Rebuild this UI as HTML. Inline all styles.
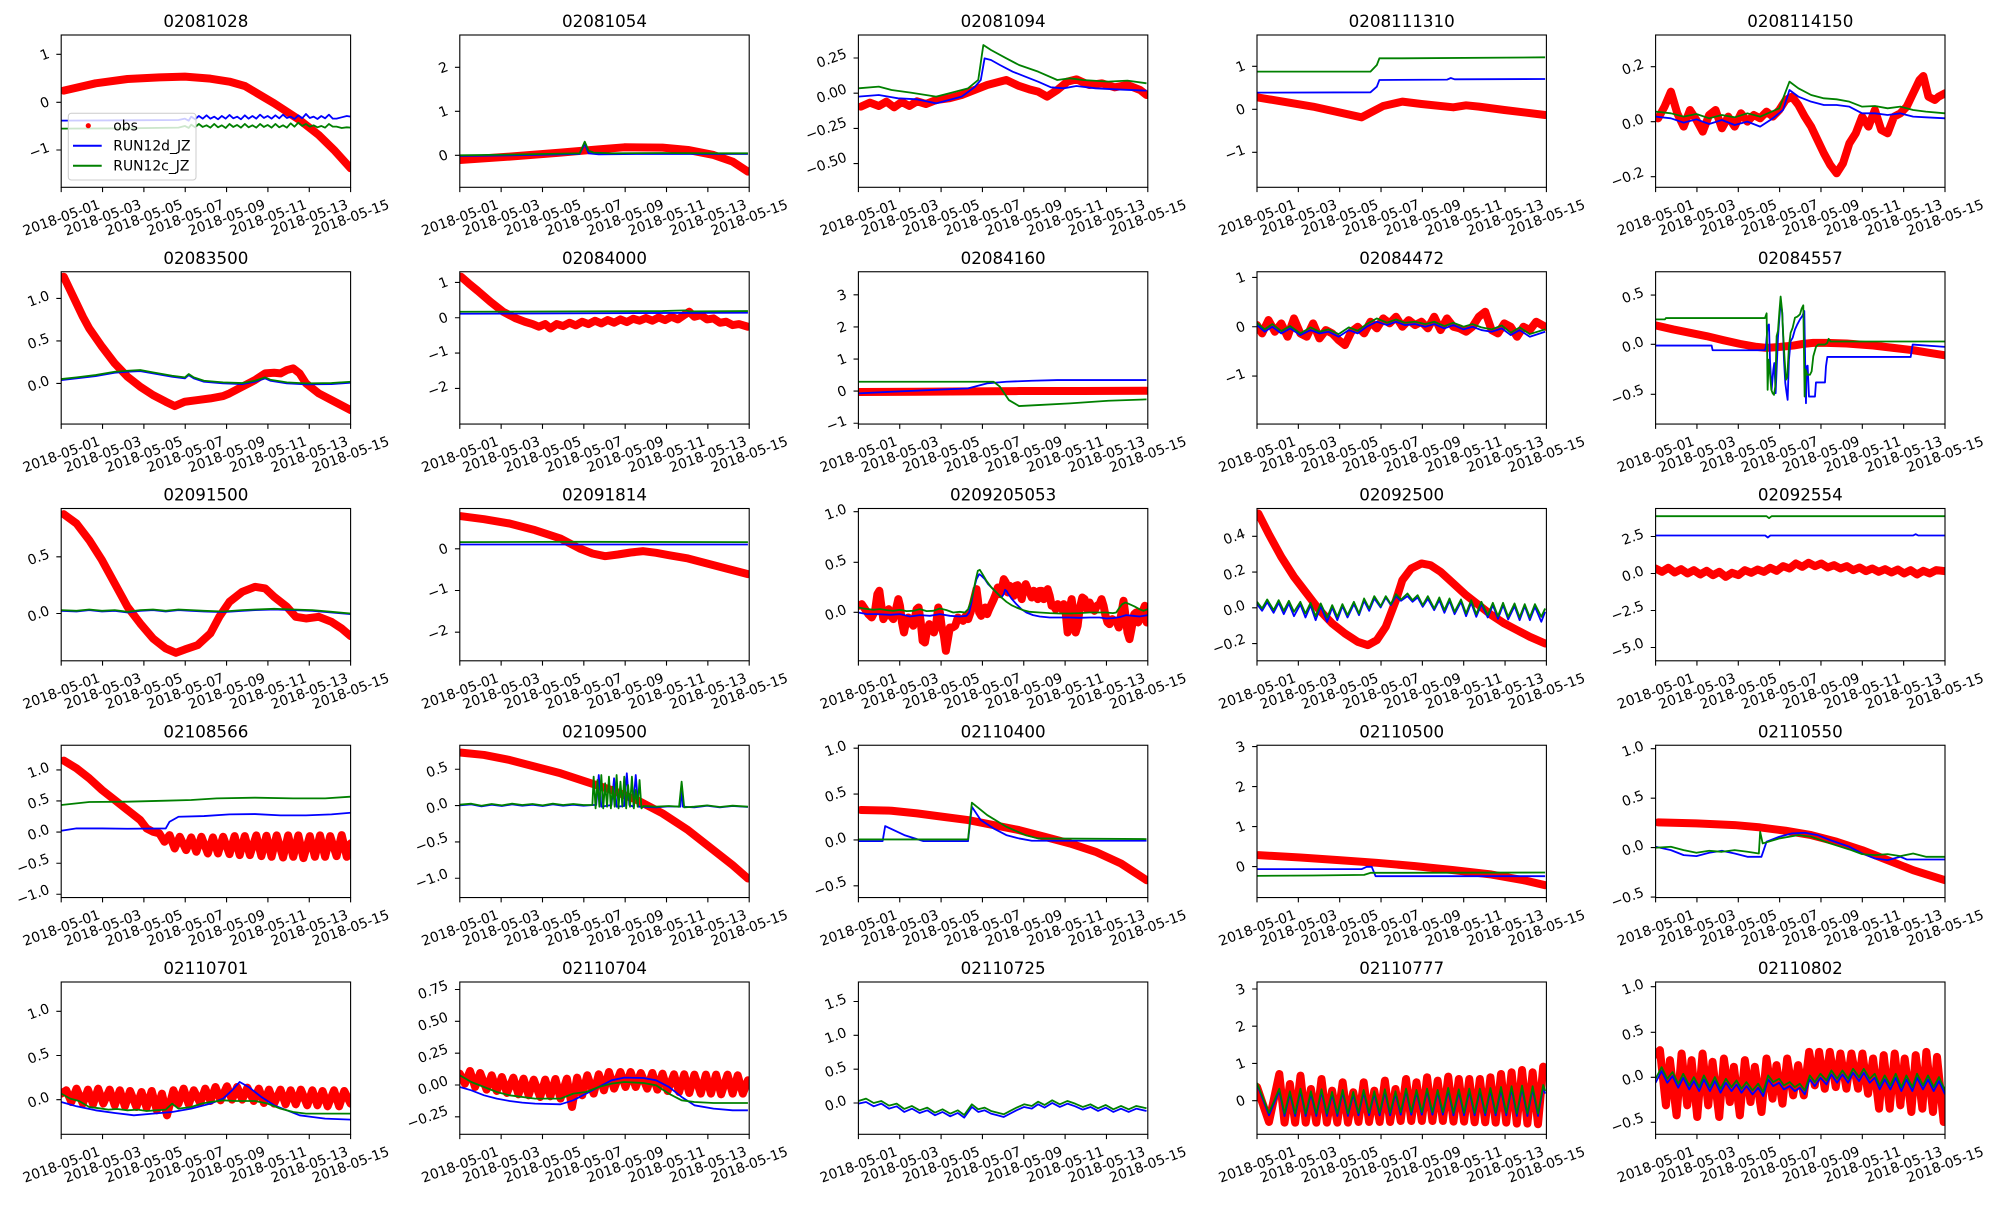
<!DOCTYPE html>
<html><head><meta charset="utf-8"><style>
html,body{margin:0;padding:0;background:#fff}
svg text{font-family:"DejaVu Sans","Liberation Sans",sans-serif;fill:#000}
.t{font-size:16.7px;text-anchor:middle}
.l{font-size:13.9px;text-anchor:middle}
.r{fill:none;stroke:#ff0000;stroke-width:8px;stroke-linejoin:round;stroke-linecap:round;vector-effect:non-scaling-stroke}
.b{fill:none;stroke:#0000ff;stroke-width:1.8px;stroke-linejoin:round;vector-effect:non-scaling-stroke}
.g{fill:none;stroke:#008000;stroke-width:1.8px;stroke-linejoin:round;vector-effect:non-scaling-stroke}
.f{fill:none;stroke:#000;stroke-width:1.1px}
.k{fill:none;stroke:#000;stroke-width:1.1px}
</style></head><body>
<svg width="2000" height="1200" viewBox="0 0 2000 1200" xmlns="http://www.w3.org/2000/svg">
<rect width="2000" height="1200" fill="#fff"/>

<!-- 1 -->
<g transform="translate(61.2,35)">
<text class="t" x="144.7" y="-8">02081028</text>
<svg x="0" y="0" width="289.4" height="152.3" viewBox="48 105 227 457" preserveAspectRatio="none">
<polyline class="r" points="50,272 75,250 100,237 125,232 145,230 165,236 180,245 192,258 215,310 235,360 250,405 262,450 275,505"/>
<polyline class="b" points="48,362 100,361 140,360 145,356 148,362 150,350 153,358 156,348 159,356 162,346 165,356 168,350 171,358 174,348 177,356 180,345 183,355 186,350 189,358 192,346 195,356 198,348 201,356 204,344 207,354 210,348 213,356 216,346 219,355 222,344 225,354 228,350 231,357 234,346 237,355 240,342 243,354 246,350 249,357 252,348 255,355 258,344 261,356 264,356 268,352 272,348 275,350"/>
<polyline class="g" points="48,386 100,385 140,383 145,378 148,384 150,374 153,382 156,372 159,381 162,376 165,383 168,372 171,382 174,376 177,384 180,372 183,381 186,375 189,383 192,372 195,382 198,376 201,383 204,372 207,381 210,375 213,383 216,372 219,382 222,376 225,383 228,370 231,380 234,368 237,378 240,372 243,380 246,376 249,382 252,378 255,383 258,372 261,380 264,380 268,384 272,382 275,383"/>
</svg>
<rect class="f" x="0" y="0" width="289.4" height="152.3"/>
<path class="k" d="M0,152.3v4.86M41.34,152.3v4.86M82.69,152.3v4.86M124.03,152.3v4.86M165.37,152.3v4.86M206.71,152.3v4.86M248.06,152.3v4.86M289.4,152.3v4.86M0,19.3h-4.86M0,67.3h-4.86M0,115h-4.86"/>
<text class="l" transform="translate(-16.6,19.3) rotate(-20)" y="5">1</text>
<text class="l" transform="translate(-16.6,67.3) rotate(-20)" y="5">0</text>
<text class="l" transform="translate(-22.1,115) rotate(-20)" y="5">−1</text>
<text class="l" transform="translate(0,182.3) rotate(-20)" y="5">2018-05-01</text>
<text class="l" transform="translate(41.34,182.3) rotate(-20)" y="5">2018-05-03</text>
<text class="l" transform="translate(82.69,182.3) rotate(-20)" y="5">2018-05-05</text>
<text class="l" transform="translate(124.03,182.3) rotate(-20)" y="5">2018-05-07</text>
<text class="l" transform="translate(165.37,182.3) rotate(-20)" y="5">2018-05-09</text>
<text class="l" transform="translate(206.71,182.3) rotate(-20)" y="5">2018-05-11</text>
<text class="l" transform="translate(248.06,182.3) rotate(-20)" y="5">2018-05-13</text>
<text class="l" transform="translate(289.4,182.3) rotate(-20)" y="5">2018-05-15</text>
<rect x="7.1" y="78.3" width="127.7" height="66.7" rx="3" fill="#fff" fill-opacity="0.8" stroke="#cccccc" stroke-width="1"/>
<circle cx="27.1" cy="90.7" r="2.6" fill="#ff0000"/>
<line x1="11.8" y1="110.7" x2="40.5" y2="110.7" stroke="#0000ff" stroke-width="2"/>
<line x1="11.8" y1="130.7" x2="40.5" y2="130.7" stroke="#008000" stroke-width="2"/>
<text class="l" x="52.1" y="95.7" style="text-anchor:start">obs</text>
<text class="l" x="52.1" y="115.7" style="text-anchor:start">RUN12d_JZ</text>
<text class="l" x="52.1" y="135.7" style="text-anchor:start">RUN12c_JZ</text>
</g>

<!-- 2 -->
<g transform="translate(459.8,35)">
<text class="t" x="144.7" y="-8">02081054</text>
<svg x="0" y="0" width="289.4" height="152.3" viewBox="361 105 227 457" preserveAspectRatio="none">
<polyline class="r" points="361,480 400,470 440,458 470,448 490,442 520,443 540,450 560,465 575,485 587,515"/>
<polyline class="b" points="361,468 400,466 440,463 455,462 459,432 462,460 470,463 500,462 540,462 587,462"/>
<polyline class="g" points="361,466 400,464 440,461 455,460 459,425 462,452 466,458 480,460 520,459 560,460 587,460"/>
</svg>
<rect class="f" x="0" y="0" width="289.4" height="152.3"/>
<path class="k" d="M0,152.3v4.86M41.34,152.3v4.86M82.69,152.3v4.86M124.03,152.3v4.86M165.37,152.3v4.86M206.71,152.3v4.86M248.06,152.3v4.86M289.4,152.3v4.86M0,32.3h-4.86M0,76.3h-4.86M0,120.3h-4.86"/>
<text class="l" transform="translate(-16.6,32.3) rotate(-20)" y="5">2</text>
<text class="l" transform="translate(-16.6,76.3) rotate(-20)" y="5">1</text>
<text class="l" transform="translate(-16.6,120.3) rotate(-20)" y="5">0</text>
<text class="l" transform="translate(0,182.3) rotate(-20)" y="5">2018-05-01</text>
<text class="l" transform="translate(41.34,182.3) rotate(-20)" y="5">2018-05-03</text>
<text class="l" transform="translate(82.69,182.3) rotate(-20)" y="5">2018-05-05</text>
<text class="l" transform="translate(124.03,182.3) rotate(-20)" y="5">2018-05-07</text>
<text class="l" transform="translate(165.37,182.3) rotate(-20)" y="5">2018-05-09</text>
<text class="l" transform="translate(206.71,182.3) rotate(-20)" y="5">2018-05-11</text>
<text class="l" transform="translate(248.06,182.3) rotate(-20)" y="5">2018-05-13</text>
<text class="l" transform="translate(289.4,182.3) rotate(-20)" y="5">2018-05-15</text>
</g>

<!-- 3 -->
<g transform="translate(858.4,35)">
<text class="t" x="144.7" y="-8">02081094</text>
<svg x="0" y="0" width="289.4" height="152.3" viewBox="674 105 227 457" preserveAspectRatio="none">
<polyline class="r" points="676,320 683,308 690,318 696,305 702,322 708,306 714,318 720,304 727,312 735,300 745,295 755,285 765,270 775,255 785,245 790,240 800,258 808,268 815,275 822,290 830,270 838,245 845,238 855,255 865,250 875,262 885,255 895,270 900,285"/>
<polyline class="b" points="674,290 690,285 705,295 720,298 735,310 745,300 755,290 765,262 770,240 773,175 778,180 785,195 795,215 805,230 815,245 825,262 835,265 845,258 860,265 875,268 900,272"/>
<polyline class="g" points="674,265 690,260 700,270 715,278 735,290 745,280 760,265 768,240 772,135 778,150 790,175 800,195 815,215 830,240 840,235 850,240 870,245 885,242 900,250"/>
</svg>
<rect class="f" x="0" y="0" width="289.4" height="152.3"/>
<path class="k" d="M0,152.3v4.86M41.34,152.3v4.86M82.69,152.3v4.86M124.03,152.3v4.86M165.37,152.3v4.86M206.71,152.3v4.86M248.06,152.3v4.86M289.4,152.3v4.86M0,23h-4.86M0,58.2h-4.86M0,93.4h-4.86M0,128.6h-4.86"/>
<text class="l" transform="translate(-27,23) rotate(-20)" y="5">0.25</text>
<text class="l" transform="translate(-27,58.2) rotate(-20)" y="5">0.00</text>
<text class="l" transform="translate(-32.4,93.4) rotate(-20)" y="5">−0.25</text>
<text class="l" transform="translate(-32.4,128.6) rotate(-20)" y="5">−0.50</text>
<text class="l" transform="translate(0,182.3) rotate(-20)" y="5">2018-05-01</text>
<text class="l" transform="translate(41.34,182.3) rotate(-20)" y="5">2018-05-03</text>
<text class="l" transform="translate(82.69,182.3) rotate(-20)" y="5">2018-05-05</text>
<text class="l" transform="translate(124.03,182.3) rotate(-20)" y="5">2018-05-07</text>
<text class="l" transform="translate(165.37,182.3) rotate(-20)" y="5">2018-05-09</text>
<text class="l" transform="translate(206.71,182.3) rotate(-20)" y="5">2018-05-11</text>
<text class="l" transform="translate(248.06,182.3) rotate(-20)" y="5">2018-05-13</text>
<text class="l" transform="translate(289.4,182.3) rotate(-20)" y="5">2018-05-15</text>
</g>

<!-- 4 -->
<g transform="translate(1257,35)">
<text class="t" x="144.7" y="-8">0208111310</text>
<svg x="0" y="0" width="289.4" height="152.3" viewBox="986 105 227 457" preserveAspectRatio="none">
<polyline class="r" points="986,292 1030,320 1068,352 1085,318 1100,305 1115,312 1140,322 1150,316 1160,320 1180,330 1212,345"/>
<polyline class="b" points="986,278 1075,277 1080,260 1082,240 1135,239 1138,234 1141,238 1212,237"/>
<polyline class="g" points="986,215 1075,215 1080,195 1082,175 1100,175 1212,172"/>
</svg>
<rect class="f" x="0" y="0" width="289.4" height="152.3"/>
<path class="k" d="M0,152.3v4.86M41.34,152.3v4.86M82.69,152.3v4.86M124.03,152.3v4.86M165.37,152.3v4.86M206.71,152.3v4.86M248.06,152.3v4.86M289.4,152.3v4.86M0,31.3h-4.86M0,74.3h-4.86M0,117.3h-4.86"/>
<text class="l" transform="translate(-16.6,31.3) rotate(-20)" y="5">1</text>
<text class="l" transform="translate(-16.6,74.3) rotate(-20)" y="5">0</text>
<text class="l" transform="translate(-22.1,117.3) rotate(-20)" y="5">−1</text>
<text class="l" transform="translate(0,182.3) rotate(-20)" y="5">2018-05-01</text>
<text class="l" transform="translate(41.34,182.3) rotate(-20)" y="5">2018-05-03</text>
<text class="l" transform="translate(82.69,182.3) rotate(-20)" y="5">2018-05-05</text>
<text class="l" transform="translate(124.03,182.3) rotate(-20)" y="5">2018-05-07</text>
<text class="l" transform="translate(165.37,182.3) rotate(-20)" y="5">2018-05-09</text>
<text class="l" transform="translate(206.71,182.3) rotate(-20)" y="5">2018-05-11</text>
<text class="l" transform="translate(248.06,182.3) rotate(-20)" y="5">2018-05-13</text>
<text class="l" transform="translate(289.4,182.3) rotate(-20)" y="5">2018-05-15</text>
</g>

<!-- 5 -->
<g transform="translate(1655.6,35)">
<text class="t" x="144.7" y="-8">0208114150</text>
<svg x="0" y="0" width="289.4" height="152.3" viewBox="1298 105 227 457" preserveAspectRatio="none">
<polyline class="r" points="1300,355 1305,320 1310,275 1315,340 1320,380 1325,330 1330,360 1335,395 1340,345 1345,330 1350,385 1355,350 1360,380 1365,340 1370,365 1375,345 1380,355 1385,335 1390,350 1395,330 1400,300 1405,290 1410,315 1415,350 1420,380 1425,420 1430,460 1435,495 1440,520 1445,490 1450,430 1455,400 1460,350 1465,380 1470,330 1475,390 1480,400 1485,350 1490,340 1495,320 1500,280 1505,240 1508,228 1512,290 1517,300 1520,290 1525,280"/>
<polyline class="b" points="1298,350 1310,355 1320,368 1330,358 1340,372 1350,360 1360,375 1370,365 1380,380 1390,355 1398,330 1403,270 1410,290 1420,305 1430,315 1440,315 1450,320 1460,340 1470,340 1480,345 1490,340 1500,350 1510,352 1525,355"/>
<polyline class="g" points="1298,335 1310,340 1320,350 1330,342 1340,355 1350,345 1360,352 1370,340 1380,350 1395,325 1403,245 1410,265 1420,285 1430,295 1440,298 1450,305 1460,320 1470,318 1480,325 1490,320 1500,330 1510,335 1525,340"/>
</svg>
<rect class="f" x="0" y="0" width="289.4" height="152.3"/>
<path class="k" d="M0,152.3v4.86M41.34,152.3v4.86M82.69,152.3v4.86M124.03,152.3v4.86M165.37,152.3v4.86M206.71,152.3v4.86M248.06,152.3v4.86M289.4,152.3v4.86M0,31.7h-4.86M0,86.7h-4.86M0,141.7h-4.86"/>
<text class="l" transform="translate(-22.9,31.7) rotate(-20)" y="5">0.2</text>
<text class="l" transform="translate(-22.9,86.7) rotate(-20)" y="5">0.0</text>
<text class="l" transform="translate(-28.3,141.7) rotate(-20)" y="5">−0.2</text>
<text class="l" transform="translate(0,182.3) rotate(-20)" y="5">2018-05-01</text>
<text class="l" transform="translate(41.34,182.3) rotate(-20)" y="5">2018-05-03</text>
<text class="l" transform="translate(82.69,182.3) rotate(-20)" y="5">2018-05-05</text>
<text class="l" transform="translate(124.03,182.3) rotate(-20)" y="5">2018-05-07</text>
<text class="l" transform="translate(165.37,182.3) rotate(-20)" y="5">2018-05-09</text>
<text class="l" transform="translate(206.71,182.3) rotate(-20)" y="5">2018-05-11</text>
<text class="l" transform="translate(248.06,182.3) rotate(-20)" y="5">2018-05-13</text>
<text class="l" transform="translate(289.4,182.3) rotate(-20)" y="5">2018-05-15</text>
</g>

<!-- 6 -->
<g transform="translate(61.2,271.75)">
<text class="t" x="144.7" y="-8">02083500</text>
<svg x="0" y="0" width="289.4" height="152.3" viewBox="48 105 227 457" preserveAspectRatio="none">
<polyline class="r" points="50,120 55,160 60,200 65,240 70,275 80,330 90,380 100,420 110,450 120,475 130,495 137,508 145,495 155,490 165,485 175,478 180,470 190,450 200,430 208,410 215,408 220,410 225,400 230,395 235,410 240,440 250,470 260,490 275,520"/>
<polyline class="b" points="48,430 60,425 75,418 90,408 100,405 110,403 120,410 135,420 145,425 148,415 152,425 160,435 175,440 190,442 200,435 208,425 212,432 225,440 240,443 260,442 275,438"/>
<polyline class="g" points="48,427 60,422 75,415 90,405 100,402 110,400 120,407 135,417 145,422 148,412 152,422 160,432 175,437 190,439 200,432 208,422 212,429 225,437 240,440 260,439 275,435"/>
</svg>
<rect class="f" x="0" y="0" width="289.4" height="152.3"/>
<path class="k" d="M0,152.3v4.86M41.34,152.3v4.86M82.69,152.3v4.86M124.03,152.3v4.86M165.37,152.3v4.86M206.71,152.3v4.86M248.06,152.3v4.86M289.4,152.3v4.86M0,26.7h-4.86M0,69.2h-4.86M0,111.7h-4.86"/>
<text class="l" transform="translate(-22.9,26.7) rotate(-20)" y="5">1.0</text>
<text class="l" transform="translate(-22.9,69.2) rotate(-20)" y="5">0.5</text>
<text class="l" transform="translate(-22.9,111.7) rotate(-20)" y="5">0.0</text>
<text class="l" transform="translate(0,182.3) rotate(-20)" y="5">2018-05-01</text>
<text class="l" transform="translate(41.34,182.3) rotate(-20)" y="5">2018-05-03</text>
<text class="l" transform="translate(82.69,182.3) rotate(-20)" y="5">2018-05-05</text>
<text class="l" transform="translate(124.03,182.3) rotate(-20)" y="5">2018-05-07</text>
<text class="l" transform="translate(165.37,182.3) rotate(-20)" y="5">2018-05-09</text>
<text class="l" transform="translate(206.71,182.3) rotate(-20)" y="5">2018-05-11</text>
<text class="l" transform="translate(248.06,182.3) rotate(-20)" y="5">2018-05-13</text>
<text class="l" transform="translate(289.4,182.3) rotate(-20)" y="5">2018-05-15</text>
</g>

<!-- 7 -->
<g transform="translate(459.8,271.75)">
<text class="t" x="144.7" y="-8">02084000</text>
<svg x="0" y="0" width="289.4" height="152.3" viewBox="361 105 227 457" preserveAspectRatio="none">
<polyline class="r" points="362,120 368,140 375,162 385,195 395,225 405,245 412,255 418,262 423,270 428,262 432,275 437,262 442,268 447,258 452,266 457,255 462,262 467,252 472,260 477,250 482,258 487,248 492,256 497,246 502,252 507,244 512,252 517,242 522,250 527,240 532,248 537,235 541,225 545,240 550,235 555,248 560,245 565,258 570,255 575,265 580,262 587,270"/>
<polyline class="b" points="361,231 450,230 500,229 587,228"/>
<polyline class="g" points="361,225 450,224 520,223 538,221 541,224 587,223"/>
</svg>
<rect class="f" x="0" y="0" width="289.4" height="152.3"/>
<path class="k" d="M0,152.3v4.86M41.34,152.3v4.86M82.69,152.3v4.86M124.03,152.3v4.86M165.37,152.3v4.86M206.71,152.3v4.86M248.06,152.3v4.86M289.4,152.3v4.86M0,10.7h-4.86M0,46h-4.86M0,81.3h-4.86M0,116.7h-4.86"/>
<text class="l" transform="translate(-16.6,10.7) rotate(-20)" y="5">1</text>
<text class="l" transform="translate(-16.6,46) rotate(-20)" y="5">0</text>
<text class="l" transform="translate(-22.1,81.3) rotate(-20)" y="5">−1</text>
<text class="l" transform="translate(-22.1,116.7) rotate(-20)" y="5">−2</text>
<text class="l" transform="translate(0,182.3) rotate(-20)" y="5">2018-05-01</text>
<text class="l" transform="translate(41.34,182.3) rotate(-20)" y="5">2018-05-03</text>
<text class="l" transform="translate(82.69,182.3) rotate(-20)" y="5">2018-05-05</text>
<text class="l" transform="translate(124.03,182.3) rotate(-20)" y="5">2018-05-07</text>
<text class="l" transform="translate(165.37,182.3) rotate(-20)" y="5">2018-05-09</text>
<text class="l" transform="translate(206.71,182.3) rotate(-20)" y="5">2018-05-11</text>
<text class="l" transform="translate(248.06,182.3) rotate(-20)" y="5">2018-05-13</text>
<text class="l" transform="translate(289.4,182.3) rotate(-20)" y="5">2018-05-15</text>
</g>

<!-- 8 -->
<g transform="translate(858.4,271.75)">
<text class="t" x="144.7" y="-8">02084160</text>
<svg x="0" y="0" width="289.4" height="152.3" viewBox="674 105 227 457" preserveAspectRatio="none">
<polyline class="r" points="674,466 720,465 760,464 800,463 850,463 900,462"/>
<polyline class="b" points="674,470 700,465 730,460 760,455 775,440 790,435 810,432 830,430 900,430"/>
<polyline class="g" points="674,435 780,435 785,450 792,490 800,508 815,505 840,500 870,492 900,488"/>
</svg>
<rect class="f" x="0" y="0" width="289.4" height="152.3"/>
<path class="k" d="M0,152.3v4.86M41.34,152.3v4.86M82.69,152.3v4.86M124.03,152.3v4.86M165.37,152.3v4.86M206.71,152.3v4.86M248.06,152.3v4.86M289.4,152.3v4.86M0,23.1h-4.86M0,55.2h-4.86M0,87.3h-4.86M0,119.3h-4.86M0,151.5h-4.86"/>
<text class="l" transform="translate(-16.6,23.1) rotate(-20)" y="5">3</text>
<text class="l" transform="translate(-16.6,55.2) rotate(-20)" y="5">2</text>
<text class="l" transform="translate(-16.6,87.3) rotate(-20)" y="5">1</text>
<text class="l" transform="translate(-16.6,119.3) rotate(-20)" y="5">0</text>
<text class="l" transform="translate(-22.1,151.5) rotate(-20)" y="5">−1</text>
<text class="l" transform="translate(0,182.3) rotate(-20)" y="5">2018-05-01</text>
<text class="l" transform="translate(41.34,182.3) rotate(-20)" y="5">2018-05-03</text>
<text class="l" transform="translate(82.69,182.3) rotate(-20)" y="5">2018-05-05</text>
<text class="l" transform="translate(124.03,182.3) rotate(-20)" y="5">2018-05-07</text>
<text class="l" transform="translate(165.37,182.3) rotate(-20)" y="5">2018-05-09</text>
<text class="l" transform="translate(206.71,182.3) rotate(-20)" y="5">2018-05-11</text>
<text class="l" transform="translate(248.06,182.3) rotate(-20)" y="5">2018-05-13</text>
<text class="l" transform="translate(289.4,182.3) rotate(-20)" y="5">2018-05-15</text>
</g>

<!-- 9 -->
<g transform="translate(1257,271.75)">
<text class="t" x="144.7" y="-8">02084472</text>
<svg x="0" y="0" width="289.4" height="152.3" viewBox="986 105 227 457" preserveAspectRatio="none">
<polyline class="r" points="986,265 990,290 995,250 1000,285 1005,260 1010,300 1015,245 1020,290 1025,300 1030,260 1035,305 1040,280 1045,290 1050,310 1055,325 1060,285 1065,270 1070,290 1075,255 1080,275 1085,245 1090,260 1095,240 1100,270 1105,250 1110,265 1115,255 1120,275 1125,240 1130,280 1135,245 1140,270 1145,275 1150,285 1155,270 1160,240 1165,225 1170,280 1175,290 1180,260 1185,270 1190,300 1195,270 1200,280 1205,255 1212,270"/>
<polyline class="b" points="986,265 992,285 998,270 1005,290 1012,275 1020,295 1028,280 1035,290 1042,285 1050,300 1058,280 1065,290 1072,270 1080,255 1088,265 1095,255 1102,265 1110,262 1118,270 1125,262 1133,275 1140,265 1148,278 1155,270 1162,280 1170,285 1178,275 1185,295 1192,280 1200,300 1212,285"/>
<polyline class="g" points="986,258 992,278 998,262 1005,283 1012,268 1020,290 1028,272 1035,285 1042,278 1050,292 1058,272 1065,282 1072,262 1080,245 1088,258 1095,248 1102,258 1110,255 1118,262 1125,255 1133,268 1140,258 1148,270 1155,262 1162,272 1170,278 1178,266 1185,288 1192,272 1200,292 1212,278"/>
</svg>
<rect class="f" x="0" y="0" width="289.4" height="152.3"/>
<path class="k" d="M0,152.3v4.86M41.34,152.3v4.86M82.69,152.3v4.86M124.03,152.3v4.86M165.37,152.3v4.86M206.71,152.3v4.86M248.06,152.3v4.86M289.4,152.3v4.86M0,5.7h-4.86M0,55h-4.86M0,104.3h-4.86"/>
<text class="l" transform="translate(-16.6,5.7) rotate(-20)" y="5">1</text>
<text class="l" transform="translate(-16.6,55) rotate(-20)" y="5">0</text>
<text class="l" transform="translate(-22.1,104.3) rotate(-20)" y="5">−1</text>
<text class="l" transform="translate(0,182.3) rotate(-20)" y="5">2018-05-01</text>
<text class="l" transform="translate(41.34,182.3) rotate(-20)" y="5">2018-05-03</text>
<text class="l" transform="translate(82.69,182.3) rotate(-20)" y="5">2018-05-05</text>
<text class="l" transform="translate(124.03,182.3) rotate(-20)" y="5">2018-05-07</text>
<text class="l" transform="translate(165.37,182.3) rotate(-20)" y="5">2018-05-09</text>
<text class="l" transform="translate(206.71,182.3) rotate(-20)" y="5">2018-05-11</text>
<text class="l" transform="translate(248.06,182.3) rotate(-20)" y="5">2018-05-13</text>
<text class="l" transform="translate(289.4,182.3) rotate(-20)" y="5">2018-05-15</text>
</g>

<!-- 10 -->
<g transform="translate(1655.6,271.75)">
<text class="t" x="144.7" y="-8">02084557</text>
<svg x="0" y="0" width="289.4" height="152.3" viewBox="47 38 868 454" preserveAspectRatio="none">
<polyline class="r" points="47,198 100,210 150,220 200,230 250,242 300,253 350,262 380,265 420,262 460,258 490,253 520,250 560,250 620,252 700,258 760,265 820,272 870,280 915,287"/>
<polyline class="b" points="47,258 215,258 218,272 375,272 378,260 383,200 387,195 390,300 395,390 400,330 403,310 407,400 410,330 414,235 418,180 422,130 427,160 432,300 436,370 440,400 443,420 447,300 452,245 458,235 465,210 472,195 480,180 487,170 493,155 496,330 498,430 500,320 503,318 507,410 520,410 525,410 528,368 555,368 558,320 562,292 700,292 812,292 818,255 915,262"/>
<polyline class="g" points="47,180 75,180 78,176 375,176 380,162 383,390 386,300 390,340 394,390 398,400 402,405 406,380 410,230 414,215 418,160 422,112 426,150 430,230 434,300 438,360 442,350 447,260 452,220 458,205 465,175 472,172 480,165 485,148 490,138 494,410 497,330 502,345 510,345 515,335 520,290 528,262 535,255 555,255 562,250 566,238 572,246 915,246"/>
</svg>
<rect class="f" x="0" y="0" width="289.4" height="152.3"/>
<path class="k" d="M0,152.3v4.86M41.34,152.3v4.86M82.69,152.3v4.86M124.03,152.3v4.86M165.37,152.3v4.86M206.71,152.3v4.86M248.06,152.3v4.86M289.4,152.3v4.86M0,23.3h-4.86M0,72.6h-4.86M0,122.6h-4.86"/>
<text class="l" transform="translate(-22.9,23.3) rotate(-20)" y="5">0.5</text>
<text class="l" transform="translate(-22.9,72.6) rotate(-20)" y="5">0.0</text>
<text class="l" transform="translate(-28.3,122.6) rotate(-20)" y="5">−0.5</text>
<text class="l" transform="translate(0,182.3) rotate(-20)" y="5">2018-05-01</text>
<text class="l" transform="translate(41.34,182.3) rotate(-20)" y="5">2018-05-03</text>
<text class="l" transform="translate(82.69,182.3) rotate(-20)" y="5">2018-05-05</text>
<text class="l" transform="translate(124.03,182.3) rotate(-20)" y="5">2018-05-07</text>
<text class="l" transform="translate(165.37,182.3) rotate(-20)" y="5">2018-05-09</text>
<text class="l" transform="translate(206.71,182.3) rotate(-20)" y="5">2018-05-11</text>
<text class="l" transform="translate(248.06,182.3) rotate(-20)" y="5">2018-05-13</text>
<text class="l" transform="translate(289.4,182.3) rotate(-20)" y="5">2018-05-15</text>
</g>

<!-- 11 -->
<g transform="translate(61.2,508.5)">
<text class="t" x="144.7" y="-8">02091500</text>
<svg x="0" y="0" width="289.4" height="152.3" viewBox="48 105 227 457" preserveAspectRatio="none">
<polyline class="r" points="50,122 60,150 70,200 80,260 90,330 100,400 110,450 120,495 130,525 138,538 145,528 155,515 165,480 172,430 180,385 190,355 200,340 208,345 215,370 225,400 232,430 240,435 250,430 260,445 268,465 275,488"/>
<polyline class="b" points="48,412 60,414 70,410 80,414 90,412 100,417 110,412 120,410 130,414 140,410 150,412 160,414 175,416 190,412 200,410 215,408 230,410 245,412 260,417 275,422"/>
<polyline class="g" points="48,410 60,412 70,408 80,412 90,410 100,415 110,410 120,408 130,412 140,408 150,410 160,412 175,414 190,410 200,408 215,406 230,408 245,410 260,415 275,420"/>
</svg>
<rect class="f" x="0" y="0" width="289.4" height="152.3"/>
<path class="k" d="M0,152.3v4.86M41.34,152.3v4.86M82.69,152.3v4.86M124.03,152.3v4.86M165.37,152.3v4.86M206.71,152.3v4.86M248.06,152.3v4.86M289.4,152.3v4.86M0,48.3h-4.86M0,105h-4.86"/>
<text class="l" transform="translate(-22.9,48.3) rotate(-20)" y="5">0.5</text>
<text class="l" transform="translate(-22.9,105) rotate(-20)" y="5">0.0</text>
<text class="l" transform="translate(0,182.3) rotate(-20)" y="5">2018-05-01</text>
<text class="l" transform="translate(41.34,182.3) rotate(-20)" y="5">2018-05-03</text>
<text class="l" transform="translate(82.69,182.3) rotate(-20)" y="5">2018-05-05</text>
<text class="l" transform="translate(124.03,182.3) rotate(-20)" y="5">2018-05-07</text>
<text class="l" transform="translate(165.37,182.3) rotate(-20)" y="5">2018-05-09</text>
<text class="l" transform="translate(206.71,182.3) rotate(-20)" y="5">2018-05-11</text>
<text class="l" transform="translate(248.06,182.3) rotate(-20)" y="5">2018-05-13</text>
<text class="l" transform="translate(289.4,182.3) rotate(-20)" y="5">2018-05-15</text>
</g>

<!-- 12 -->
<g transform="translate(459.8,508.5)">
<text class="t" x="144.7" y="-8">02091814</text>
<svg x="0" y="0" width="289.4" height="152.3" viewBox="361 105 227 457" preserveAspectRatio="none">
<polyline class="r" points="362,128 380,137 400,150 420,170 440,195 455,225 465,240 475,248 485,243 495,237 505,233 515,238 525,245 540,255 555,270 570,285 587,302"/>
<polyline class="b" points="361,213 587,213"/>
<polyline class="g" points="361,206 450,205 587,206"/>
</svg>
<rect class="f" x="0" y="0" width="289.4" height="152.3"/>
<path class="k" d="M0,152.3v4.86M41.34,152.3v4.86M82.69,152.3v4.86M124.03,152.3v4.86M165.37,152.3v4.86M206.71,152.3v4.86M248.06,152.3v4.86M289.4,152.3v4.86M0,40.3h-4.86M0,82h-4.86M0,123.7h-4.86"/>
<text class="l" transform="translate(-16.6,40.3) rotate(-20)" y="5">0</text>
<text class="l" transform="translate(-22.1,82) rotate(-20)" y="5">−1</text>
<text class="l" transform="translate(-22.1,123.7) rotate(-20)" y="5">−2</text>
<text class="l" transform="translate(0,182.3) rotate(-20)" y="5">2018-05-01</text>
<text class="l" transform="translate(41.34,182.3) rotate(-20)" y="5">2018-05-03</text>
<text class="l" transform="translate(82.69,182.3) rotate(-20)" y="5">2018-05-05</text>
<text class="l" transform="translate(124.03,182.3) rotate(-20)" y="5">2018-05-07</text>
<text class="l" transform="translate(165.37,182.3) rotate(-20)" y="5">2018-05-09</text>
<text class="l" transform="translate(206.71,182.3) rotate(-20)" y="5">2018-05-11</text>
<text class="l" transform="translate(248.06,182.3) rotate(-20)" y="5">2018-05-13</text>
<text class="l" transform="translate(289.4,182.3) rotate(-20)" y="5">2018-05-15</text>
</g>

<!-- 13 -->
<g transform="translate(858.4,508.5)">
<text class="t" x="144.7" y="-8">0209205053</text>
<svg x="0" y="0" width="289.4" height="152.3" viewBox="55 28 870 457" preserveAspectRatio="none">
<polyline class="r" points="55,320 65,315 75,330 85,345 95,355 105,335 112,285 118,275 124,320 130,360 138,345 146,330 152,350 160,360 168,330 175,300 180,320 186,370 192,400 198,370 205,355 212,370 220,380 230,330 236,325 242,365 248,425 255,430 262,390 268,375 275,390 282,400 288,380 295,325 300,340 305,380 312,410 318,455 324,420 330,385 338,385 346,380 354,355 362,360 370,365 378,350 385,360 392,340 398,320 404,295 410,270 414,300 418,340 424,350 430,330 436,325 442,345 448,330 455,315 462,300 468,285 474,265 480,285 486,270 492,240 498,250 504,280 510,260 516,270 522,290 528,260 534,258 540,280 546,300 552,270 558,255 564,270 570,280 576,295 582,275 588,280 594,300 600,275 606,275 612,300 618,285 624,270 630,290 636,320 642,320 648,330 654,315 660,320 666,330 672,315 678,340 684,400 690,330 696,300 702,345 708,400 714,380 720,330 728,295 735,300 742,330 750,310 758,330 765,335 772,320 780,315 786,300 792,320 798,350 804,370 810,375 818,360 826,365 832,370 838,385 846,340 852,305 858,350 864,400 870,420 876,390 884,345 890,340 896,370 902,360 910,335 916,320 922,370 925,360"/>
<polyline class="b" points="55,340 80,345 110,345 150,347 180,345 210,352 240,348 270,350 300,345 330,350 360,352 380,350 388,340 395,310 402,270 410,240 418,225 425,230 435,240 445,255 460,270 475,285 485,295 492,285 496,272 500,275 506,285 515,298 530,315 545,330 560,340 580,348 600,352 630,355 660,355 690,355 720,356 750,355 780,355 800,358 820,357 840,354 860,348 880,350 900,352 925,348"/>
<polyline class="g" points="55,325 70,328 85,330 100,332 120,330 140,333 160,335 180,332 200,336 220,335 240,330 260,336 280,335 300,328 320,333 340,340 360,338 375,340 385,330 392,310 400,280 408,240 414,215 420,212 428,225 440,245 455,265 470,280 485,295 500,308 515,318 530,325 550,333 570,338 600,340 630,342 660,343 690,343 720,342 750,340 780,340 800,340 820,342 830,340 840,325 848,315 858,310 870,315 885,322 900,330 912,335 925,330"/>
</svg>
<rect class="f" x="0" y="0" width="289.4" height="152.3"/>
<path class="k" d="M0,152.3v4.86M41.34,152.3v4.86M82.69,152.3v4.86M124.03,152.3v4.86M165.37,152.3v4.86M206.71,152.3v4.86M248.06,152.3v4.86M289.4,152.3v4.86M0,3.2h-4.86M0,53.8h-4.86M0,103.8h-4.86"/>
<text class="l" transform="translate(-22.9,3.2) rotate(-20)" y="5">1.0</text>
<text class="l" transform="translate(-22.9,53.8) rotate(-20)" y="5">0.5</text>
<text class="l" transform="translate(-22.9,103.8) rotate(-20)" y="5">0.0</text>
<text class="l" transform="translate(0,182.3) rotate(-20)" y="5">2018-05-01</text>
<text class="l" transform="translate(41.34,182.3) rotate(-20)" y="5">2018-05-03</text>
<text class="l" transform="translate(82.69,182.3) rotate(-20)" y="5">2018-05-05</text>
<text class="l" transform="translate(124.03,182.3) rotate(-20)" y="5">2018-05-07</text>
<text class="l" transform="translate(165.37,182.3) rotate(-20)" y="5">2018-05-09</text>
<text class="l" transform="translate(206.71,182.3) rotate(-20)" y="5">2018-05-11</text>
<text class="l" transform="translate(248.06,182.3) rotate(-20)" y="5">2018-05-13</text>
<text class="l" transform="translate(289.4,182.3) rotate(-20)" y="5">2018-05-15</text>
</g>

<!-- 14 -->
<g transform="translate(1257,508.5)">
<text class="t" x="144.7" y="-8">02092500</text>
<svg x="0" y="0" width="289.4" height="152.3" viewBox="986 105 227 457" preserveAspectRatio="none">
<polyline class="r" points="987,120 995,180 1005,250 1015,310 1025,360 1035,410 1045,450 1055,480 1065,505 1073,515 1080,500 1087,460 1095,380 1100,320 1107,285 1115,270 1122,275 1130,295 1140,330 1150,365 1160,395 1170,425 1180,450 1190,470 1200,490 1212,510"/>
<polyline class="b" points="986,392 990,412 994,386 999,418 1003,388 1007,422 1011,390 1015,428 1020,393 1024,432 1028,396 1032,440 1036,398 1041,445 1045,402 1049,440 1053,398 1057,432 1062,392 1066,425 1070,382 1074,412 1078,375 1083,402 1087,372 1091,395 1095,368 1099,382 1104,368 1108,385 1112,372 1116,400 1120,376 1125,410 1129,380 1133,418 1137,382 1141,422 1146,385 1150,428 1154,388 1158,430 1162,392 1167,432 1171,395 1175,436 1179,395 1183,438 1188,398 1192,440 1196,398 1200,440 1204,400 1209,445 1212,415"/>
<polyline class="g" points="986,385 990,405 994,378 999,410 1003,380 1007,412 1011,382 1015,415 1020,385 1024,420 1028,388 1032,428 1036,390 1041,432 1045,395 1049,430 1053,392 1057,425 1062,385 1066,420 1070,375 1074,405 1078,368 1083,398 1087,368 1091,392 1095,362 1099,378 1104,360 1108,380 1112,365 1116,395 1120,368 1125,405 1129,372 1133,410 1137,375 1141,415 1146,378 1150,420 1154,380 1158,422 1162,385 1167,425 1171,388 1175,428 1179,388 1183,430 1188,390 1192,432 1196,392 1200,432 1204,392 1209,430 1212,405"/>
</svg>
<rect class="f" x="0" y="0" width="289.4" height="152.3"/>
<path class="k" d="M0,152.3v4.86M41.34,152.3v4.86M82.69,152.3v4.86M124.03,152.3v4.86M165.37,152.3v4.86M206.71,152.3v4.86M248.06,152.3v4.86M289.4,152.3v4.86M0,27.8h-4.86M0,63.6h-4.86M0,99.3h-4.86M0,135.1h-4.86"/>
<text class="l" transform="translate(-22.9,27.8) rotate(-20)" y="5">0.4</text>
<text class="l" transform="translate(-22.9,63.6) rotate(-20)" y="5">0.2</text>
<text class="l" transform="translate(-22.9,99.3) rotate(-20)" y="5">0.0</text>
<text class="l" transform="translate(-28.3,135.1) rotate(-20)" y="5">−0.2</text>
<text class="l" transform="translate(0,182.3) rotate(-20)" y="5">2018-05-01</text>
<text class="l" transform="translate(41.34,182.3) rotate(-20)" y="5">2018-05-03</text>
<text class="l" transform="translate(82.69,182.3) rotate(-20)" y="5">2018-05-05</text>
<text class="l" transform="translate(124.03,182.3) rotate(-20)" y="5">2018-05-07</text>
<text class="l" transform="translate(165.37,182.3) rotate(-20)" y="5">2018-05-09</text>
<text class="l" transform="translate(206.71,182.3) rotate(-20)" y="5">2018-05-11</text>
<text class="l" transform="translate(248.06,182.3) rotate(-20)" y="5">2018-05-13</text>
<text class="l" transform="translate(289.4,182.3) rotate(-20)" y="5">2018-05-15</text>
</g>

<!-- 15 -->
<g transform="translate(1655.6,508.5)">
<text class="t" x="144.7" y="-8">02092554</text>
<svg x="0" y="0" width="289.4" height="152.3" viewBox="1298 105 227 457" preserveAspectRatio="none">
<polyline class="r" points="1298,285 1303,295 1308,283 1313,297 1318,287 1323,300 1328,290 1333,303 1338,292 1343,305 1348,295 1353,310 1358,298 1363,305 1368,290 1373,298 1378,288 1383,295 1388,283 1393,292 1398,278 1403,285 1408,270 1413,280 1418,268 1423,278 1428,270 1433,282 1438,275 1443,285 1448,278 1453,290 1458,282 1463,293 1468,285 1473,295 1478,287 1483,297 1488,288 1493,300 1498,290 1503,303 1508,292 1513,300 1518,290 1525,293"/>
<polyline class="b" points="1298,186 1384,186 1386,192 1388,186 1500,186 1502,182 1504,186 1525,186"/>
<polyline class="g" points="1298,128 1385,128 1387,134 1389,128 1525,128"/>
</svg>
<rect class="f" x="0" y="0" width="289.4" height="152.3"/>
<path class="k" d="M0,152.3v4.86M41.34,152.3v4.86M82.69,152.3v4.86M124.03,152.3v4.86M165.37,152.3v4.86M206.71,152.3v4.86M248.06,152.3v4.86M289.4,152.3v4.86M0,28h-4.86M0,65h-4.86M0,102h-4.86M0,139h-4.86"/>
<text class="l" transform="translate(-22.9,28) rotate(-20)" y="5">2.5</text>
<text class="l" transform="translate(-22.9,65) rotate(-20)" y="5">0.0</text>
<text class="l" transform="translate(-28.3,102) rotate(-20)" y="5">−2.5</text>
<text class="l" transform="translate(-28.3,139) rotate(-20)" y="5">−5.0</text>
<text class="l" transform="translate(0,182.3) rotate(-20)" y="5">2018-05-01</text>
<text class="l" transform="translate(41.34,182.3) rotate(-20)" y="5">2018-05-03</text>
<text class="l" transform="translate(82.69,182.3) rotate(-20)" y="5">2018-05-05</text>
<text class="l" transform="translate(124.03,182.3) rotate(-20)" y="5">2018-05-07</text>
<text class="l" transform="translate(165.37,182.3) rotate(-20)" y="5">2018-05-09</text>
<text class="l" transform="translate(206.71,182.3) rotate(-20)" y="5">2018-05-11</text>
<text class="l" transform="translate(248.06,182.3) rotate(-20)" y="5">2018-05-13</text>
<text class="l" transform="translate(289.4,182.3) rotate(-20)" y="5">2018-05-15</text>
</g>

<!-- 16 -->
<g transform="translate(61.2,745.25)">
<text class="t" x="144.7" y="-8">02108566</text>
<svg x="0" y="0" width="289.4" height="152.3" viewBox="48 106 227 456" preserveAspectRatio="none">
<polyline class="r" points="50,152 60,175 70,205 80,240 90,270 100,300 110,330 115,355 120,365 125,370 129,395 133,375 137,415 141,380 146,420 150,382 154,425 158,380 163,430 167,382 171,430 175,380 180,432 184,378 188,435 192,378 196,435 201,376 205,438 209,377 213,440 217,376 222,442 226,376 230,440 234,376 238,444 243,378 247,440 251,376 255,440 259,378 264,438 268,375 272,440 275,400"/>
<polyline class="b" points="48,362 60,355 80,355 100,356 130,355 133,335 140,320 160,318 180,313 200,312 220,316 240,316 260,313 275,308"/>
<polyline class="g" points="48,285 70,276 100,275 130,272 150,270 170,265 200,263 230,265 255,265 275,260"/>
</svg>
<rect class="f" x="0" y="0" width="289.4" height="152.3"/>
<path class="k" d="M0,152.3v4.86M41.34,152.3v4.86M82.69,152.3v4.86M124.03,152.3v4.86M165.37,152.3v4.86M206.71,152.3v4.86M248.06,152.3v4.86M289.4,152.3v4.86M0,24.7h-4.86M0,55.7h-4.86M0,86.8h-4.86M0,118h-4.86M0,149h-4.86"/>
<text class="l" transform="translate(-22.9,24.7) rotate(-20)" y="5">1.0</text>
<text class="l" transform="translate(-22.9,55.7) rotate(-20)" y="5">0.5</text>
<text class="l" transform="translate(-22.9,86.8) rotate(-20)" y="5">0.0</text>
<text class="l" transform="translate(-28.3,118) rotate(-20)" y="5">−0.5</text>
<text class="l" transform="translate(-28.3,149) rotate(-20)" y="5">−1.0</text>
<text class="l" transform="translate(0,182.3) rotate(-20)" y="5">2018-05-01</text>
<text class="l" transform="translate(41.34,182.3) rotate(-20)" y="5">2018-05-03</text>
<text class="l" transform="translate(82.69,182.3) rotate(-20)" y="5">2018-05-05</text>
<text class="l" transform="translate(124.03,182.3) rotate(-20)" y="5">2018-05-07</text>
<text class="l" transform="translate(165.37,182.3) rotate(-20)" y="5">2018-05-09</text>
<text class="l" transform="translate(206.71,182.3) rotate(-20)" y="5">2018-05-11</text>
<text class="l" transform="translate(248.06,182.3) rotate(-20)" y="5">2018-05-13</text>
<text class="l" transform="translate(289.4,182.3) rotate(-20)" y="5">2018-05-15</text>
</g>

<!-- 17 -->
<g transform="translate(459.8,745.25)">
<text class="t" x="144.7" y="-8">02109500</text>
<svg x="0" y="0" width="289.4" height="152.3" viewBox="361 106 227 456" preserveAspectRatio="none">
<polyline class="r" points="362,128 380,135 400,150 420,170 440,190 460,215 480,240 500,270 520,310 540,360 560,420 575,465 587,505"/>
<polyline class="b" points="361,286 370,283 378,289 386,284 394,288 402,283 410,287 418,284 426,288 434,283 442,287 450,284 458,287 466,285 468,285 470,195 472,290 480,285 482,205 484,290 490,288 492,190 494,285 497,290 499,195 501,290 505,290 515,292 525,289 534,290 535,225 536,290 545,292 555,287 565,292 575,288 587,291"/>
<polyline class="g" points="361,284 370,281 378,287 386,282 394,286 402,281 410,285 418,282 426,286 434,281 442,285 450,282 458,285 465,285 466,200 467.5,295 469,210 470.5,290 472,195 473.5,295 475,220 476.5,290 478,200 479.5,295 481,230 482.5,290 484,195 485.5,295 487,215 488.5,290 490,200 491.5,295 493,225 494.5,290 496,200 497.5,295 499,240 500.5,290 502,210 503.5,295 505,288 515,290 525,288 533,290 535,215 537,292 545,290 555,286 565,291 575,287 587,290"/>
</svg>
<rect class="f" x="0" y="0" width="289.4" height="152.3"/>
<path class="k" d="M0,152.3v4.86M41.34,152.3v4.86M82.69,152.3v4.86M124.03,152.3v4.86M165.37,152.3v4.86M206.71,152.3v4.86M248.06,152.3v4.86M289.4,152.3v4.86M0,24h-4.86M0,60.3h-4.86M0,96.7h-4.86M0,133h-4.86"/>
<text class="l" transform="translate(-22.9,24) rotate(-20)" y="5">0.5</text>
<text class="l" transform="translate(-22.9,60.3) rotate(-20)" y="5">0.0</text>
<text class="l" transform="translate(-28.3,96.7) rotate(-20)" y="5">−0.5</text>
<text class="l" transform="translate(-28.3,133) rotate(-20)" y="5">−1.0</text>
<text class="l" transform="translate(0,182.3) rotate(-20)" y="5">2018-05-01</text>
<text class="l" transform="translate(41.34,182.3) rotate(-20)" y="5">2018-05-03</text>
<text class="l" transform="translate(82.69,182.3) rotate(-20)" y="5">2018-05-05</text>
<text class="l" transform="translate(124.03,182.3) rotate(-20)" y="5">2018-05-07</text>
<text class="l" transform="translate(165.37,182.3) rotate(-20)" y="5">2018-05-09</text>
<text class="l" transform="translate(206.71,182.3) rotate(-20)" y="5">2018-05-11</text>
<text class="l" transform="translate(248.06,182.3) rotate(-20)" y="5">2018-05-13</text>
<text class="l" transform="translate(289.4,182.3) rotate(-20)" y="5">2018-05-15</text>
</g>

<!-- 18 -->
<g transform="translate(858.4,745.25)">
<text class="t" x="144.7" y="-8">02110400</text>
<svg x="0" y="0" width="289.4" height="152.3" viewBox="674 106 227 456" preserveAspectRatio="none">
<polyline class="r" points="676,300 700,302 720,310 740,320 760,330 780,345 800,360 820,380 840,400 860,425 880,460 900,510"/>
<polyline class="b" points="674,393 693,393 695,348 710,375 725,393 760,393 763,290 770,330 780,355 790,375 800,385 810,392 900,392"/>
<polyline class="g" points="674,388 760,388 763,278 775,315 790,350 805,375 815,385 900,387"/>
</svg>
<rect class="f" x="0" y="0" width="289.4" height="152.3"/>
<path class="k" d="M0,152.3v4.86M41.34,152.3v4.86M82.69,152.3v4.86M124.03,152.3v4.86M165.37,152.3v4.86M206.71,152.3v4.86M248.06,152.3v4.86M289.4,152.3v4.86M0,2.9h-4.86M0,48.8h-4.86M0,94.7h-4.86M0,140.6h-4.86"/>
<text class="l" transform="translate(-22.9,2.9) rotate(-20)" y="5">1.0</text>
<text class="l" transform="translate(-22.9,48.8) rotate(-20)" y="5">0.5</text>
<text class="l" transform="translate(-22.9,94.7) rotate(-20)" y="5">0.0</text>
<text class="l" transform="translate(-28.3,140.6) rotate(-20)" y="5">−0.5</text>
<text class="l" transform="translate(0,182.3) rotate(-20)" y="5">2018-05-01</text>
<text class="l" transform="translate(41.34,182.3) rotate(-20)" y="5">2018-05-03</text>
<text class="l" transform="translate(82.69,182.3) rotate(-20)" y="5">2018-05-05</text>
<text class="l" transform="translate(124.03,182.3) rotate(-20)" y="5">2018-05-07</text>
<text class="l" transform="translate(165.37,182.3) rotate(-20)" y="5">2018-05-09</text>
<text class="l" transform="translate(206.71,182.3) rotate(-20)" y="5">2018-05-11</text>
<text class="l" transform="translate(248.06,182.3) rotate(-20)" y="5">2018-05-13</text>
<text class="l" transform="translate(289.4,182.3) rotate(-20)" y="5">2018-05-15</text>
</g>

<!-- 19 -->
<g transform="translate(1257,745.25)">
<text class="t" x="144.7" y="-8">02110500</text>
<svg x="0" y="0" width="289.4" height="152.3" viewBox="986 106 227 456" preserveAspectRatio="none">
<polyline class="r" points="987,435 1020,442 1050,450 1080,458 1110,468 1140,480 1170,493 1195,510 1212,525"/>
<polyline class="b" points="986,477 1068,477 1072,470 1076,470 1079,498 1212,498"/>
<polyline class="g" points="986,497 1030,496 1070,494 1075,488 1100,488 1212,487"/>
</svg>
<rect class="f" x="0" y="0" width="289.4" height="152.3"/>
<path class="k" d="M0,152.3v4.86M41.34,152.3v4.86M82.69,152.3v4.86M124.03,152.3v4.86M165.37,152.3v4.86M206.71,152.3v4.86M248.06,152.3v4.86M289.4,152.3v4.86M0,1.3h-4.86M0,41.3h-4.86M0,81.3h-4.86M0,121.3h-4.86"/>
<text class="l" transform="translate(-16.6,1.3) rotate(-20)" y="5">3</text>
<text class="l" transform="translate(-16.6,41.3) rotate(-20)" y="5">2</text>
<text class="l" transform="translate(-16.6,81.3) rotate(-20)" y="5">1</text>
<text class="l" transform="translate(-16.6,121.3) rotate(-20)" y="5">0</text>
<text class="l" transform="translate(0,182.3) rotate(-20)" y="5">2018-05-01</text>
<text class="l" transform="translate(41.34,182.3) rotate(-20)" y="5">2018-05-03</text>
<text class="l" transform="translate(82.69,182.3) rotate(-20)" y="5">2018-05-05</text>
<text class="l" transform="translate(124.03,182.3) rotate(-20)" y="5">2018-05-07</text>
<text class="l" transform="translate(165.37,182.3) rotate(-20)" y="5">2018-05-09</text>
<text class="l" transform="translate(206.71,182.3) rotate(-20)" y="5">2018-05-11</text>
<text class="l" transform="translate(248.06,182.3) rotate(-20)" y="5">2018-05-13</text>
<text class="l" transform="translate(289.4,182.3) rotate(-20)" y="5">2018-05-15</text>
</g>

<!-- 20 -->
<g transform="translate(1655.6,745.25)">
<text class="t" x="144.7" y="-8">02110550</text>
<svg x="0" y="0" width="289.4" height="152.3" viewBox="1298 106 227 456" preserveAspectRatio="none">
<polyline class="r" points="1300,337 1330,340 1360,345 1380,352 1400,362 1420,375 1440,395 1460,420 1480,450 1500,480 1525,510"/>
<polyline class="b" points="1298,410 1310,420 1320,435 1330,438 1340,428 1350,422 1360,430 1370,440 1381,440 1385,395 1395,380 1405,370 1415,368 1425,375 1435,390 1450,410 1460,430 1470,445 1480,450 1490,440 1495,448 1525,448"/>
<polyline class="g" points="1298,413 1310,410 1320,420 1330,428 1340,422 1350,425 1360,420 1370,425 1379,430 1380,365 1382,400 1395,385 1410,375 1420,380 1435,400 1450,418 1460,432 1470,435 1480,432 1490,438 1500,430 1510,440 1525,440"/>
</svg>
<rect class="f" x="0" y="0" width="289.4" height="152.3"/>
<path class="k" d="M0,152.3v4.86M41.34,152.3v4.86M82.69,152.3v4.86M124.03,152.3v4.86M165.37,152.3v4.86M206.71,152.3v4.86M248.06,152.3v4.86M289.4,152.3v4.86M0,3.4h-4.86M0,52.9h-4.86M0,102.3h-4.86M0,151.8h-4.86"/>
<text class="l" transform="translate(-22.9,3.4) rotate(-20)" y="5">1.0</text>
<text class="l" transform="translate(-22.9,52.9) rotate(-20)" y="5">0.5</text>
<text class="l" transform="translate(-22.9,102.3) rotate(-20)" y="5">0.0</text>
<text class="l" transform="translate(-28.3,151.8) rotate(-20)" y="5">−0.5</text>
<text class="l" transform="translate(0,182.3) rotate(-20)" y="5">2018-05-01</text>
<text class="l" transform="translate(41.34,182.3) rotate(-20)" y="5">2018-05-03</text>
<text class="l" transform="translate(82.69,182.3) rotate(-20)" y="5">2018-05-05</text>
<text class="l" transform="translate(124.03,182.3) rotate(-20)" y="5">2018-05-07</text>
<text class="l" transform="translate(165.37,182.3) rotate(-20)" y="5">2018-05-09</text>
<text class="l" transform="translate(206.71,182.3) rotate(-20)" y="5">2018-05-11</text>
<text class="l" transform="translate(248.06,182.3) rotate(-20)" y="5">2018-05-13</text>
<text class="l" transform="translate(289.4,182.3) rotate(-20)" y="5">2018-05-15</text>
</g>

<!-- 21 -->
<g transform="translate(61.2,982)">
<text class="t" x="144.7" y="-8">02110701</text>
<svg x="0" y="0" width="289.4" height="152.3" viewBox="48 105 227 457" preserveAspectRatio="none">
<polyline class="r" points="48,440 52,430 56,465 60,425 65,470 69,428 73,472 77,425 81,470 86,428 90,475 94,430 98,478 102,432 107,480 111,435 115,482 119,432 123,490 127,440 131,505 136,430 140,470 144,425 148,472 152,430 157,468 161,425 165,462 169,420 173,460 178,418 182,458 186,420 190,458 194,422 199,462 203,425 207,468 211,428 215,470 220,428 224,472 228,430 232,472 236,428 241,475 245,430 249,475 253,432 257,478 262,430 266,478 270,432 275,470"/>
<polyline class="b" points="48,465 60,478 75,490 90,498 105,505 120,500 135,495 150,485 165,470 175,455 182,430 188,405 195,420 205,450 215,475 225,490 235,505 245,510 255,515 275,518"/>
<polyline class="g" points="48,440 55,455 62,462 70,480 78,484 85,488 92,486 100,490 108,488 115,492 122,490 130,488 135,470 140,485 150,480 158,470 165,465 175,460 185,462 200,462 210,470 220,485 230,495 240,500 255,500 275,500"/>
</svg>
<rect class="f" x="0" y="0" width="289.4" height="152.3"/>
<path class="k" d="M0,152.3v4.86M41.34,152.3v4.86M82.69,152.3v4.86M124.03,152.3v4.86M165.37,152.3v4.86M206.71,152.3v4.86M248.06,152.3v4.86M289.4,152.3v4.86M0,29.3h-4.86M0,73.5h-4.86M0,117.7h-4.86"/>
<text class="l" transform="translate(-22.9,29.3) rotate(-20)" y="5">1.0</text>
<text class="l" transform="translate(-22.9,73.5) rotate(-20)" y="5">0.5</text>
<text class="l" transform="translate(-22.9,117.7) rotate(-20)" y="5">0.0</text>
<text class="l" transform="translate(0,182.3) rotate(-20)" y="5">2018-05-01</text>
<text class="l" transform="translate(41.34,182.3) rotate(-20)" y="5">2018-05-03</text>
<text class="l" transform="translate(82.69,182.3) rotate(-20)" y="5">2018-05-05</text>
<text class="l" transform="translate(124.03,182.3) rotate(-20)" y="5">2018-05-07</text>
<text class="l" transform="translate(165.37,182.3) rotate(-20)" y="5">2018-05-09</text>
<text class="l" transform="translate(206.71,182.3) rotate(-20)" y="5">2018-05-11</text>
<text class="l" transform="translate(248.06,182.3) rotate(-20)" y="5">2018-05-13</text>
<text class="l" transform="translate(289.4,182.3) rotate(-20)" y="5">2018-05-15</text>
</g>

<!-- 22 -->
<g transform="translate(459.8,982)">
<text class="t" x="144.7" y="-8">02110704</text>
<svg x="0" y="0" width="289.4" height="152.3" viewBox="361 105 227 457" preserveAspectRatio="none">
<polyline class="r" points="361,380 365,410 369,372 373,420 377,378 382,428 386,385 390,432 394,390 398,438 403,392 407,442 411,395 415,445 419,398 424,450 428,398 432,448 436,396 440,455 445,395 449,480 453,392 457,445 461,385 466,440 470,382 474,430 478,375 482,425 487,375 491,420 495,375 499,420 503,378 508,425 512,378 516,428 520,380 524,432 529,382 533,435 537,382 541,438 545,383 550,440 554,383 558,440 562,383 566,442 571,383 575,440 579,385 583,440 587,400"/>
<polyline class="b" points="361,420 370,430 380,445 390,455 400,462 410,467 420,470 440,472 450,460 460,440 470,420 480,400 490,392 505,393 515,400 525,420 535,450 545,475 560,485 575,490 587,490"/>
<polyline class="g" points="361,385 370,405 380,420 390,435 400,445 420,455 440,455 450,440 460,435 470,420 480,410 490,405 505,408 515,415 525,440 535,460 545,465 560,468 587,468"/>
</svg>
<rect class="f" x="0" y="0" width="289.4" height="152.3"/>
<path class="k" d="M0,152.3v4.86M41.34,152.3v4.86M82.69,152.3v4.86M124.03,152.3v4.86M165.37,152.3v4.86M206.71,152.3v4.86M248.06,152.3v4.86M289.4,152.3v4.86M0,7.5h-4.86M0,39.3h-4.86M0,71.2h-4.86M0,103h-4.86M0,134.8h-4.86"/>
<text class="l" transform="translate(-27,7.5) rotate(-20)" y="5">0.75</text>
<text class="l" transform="translate(-27,39.3) rotate(-20)" y="5">0.50</text>
<text class="l" transform="translate(-27,71.2) rotate(-20)" y="5">0.25</text>
<text class="l" transform="translate(-27,103) rotate(-20)" y="5">0.00</text>
<text class="l" transform="translate(-32.4,134.8) rotate(-20)" y="5">−0.25</text>
<text class="l" transform="translate(0,182.3) rotate(-20)" y="5">2018-05-01</text>
<text class="l" transform="translate(41.34,182.3) rotate(-20)" y="5">2018-05-03</text>
<text class="l" transform="translate(82.69,182.3) rotate(-20)" y="5">2018-05-05</text>
<text class="l" transform="translate(124.03,182.3) rotate(-20)" y="5">2018-05-07</text>
<text class="l" transform="translate(165.37,182.3) rotate(-20)" y="5">2018-05-09</text>
<text class="l" transform="translate(206.71,182.3) rotate(-20)" y="5">2018-05-11</text>
<text class="l" transform="translate(248.06,182.3) rotate(-20)" y="5">2018-05-13</text>
<text class="l" transform="translate(289.4,182.3) rotate(-20)" y="5">2018-05-15</text>
</g>

<!-- 23 -->
<g transform="translate(858.4,982)">
<text class="t" x="144.7" y="-8">02110725</text>
<svg x="0" y="0" width="289.4" height="152.3" viewBox="674 105 227 457" preserveAspectRatio="none">
<polyline class="b" points="674,470 680,465 686,478 692,470 698,485 704,478 710,495 716,485 722,498 728,490 734,505 740,495 746,508 752,498 757,512 763,480 768,495 773,490 778,500 783,505 788,510 793,500 798,490 804,480 810,485 815,472 820,482 826,468 832,480 838,470 844,478 850,488 856,480 862,492 868,482 874,495 880,485 886,495 892,485 900,492"/>
<polyline class="g" points="674,462 680,455 686,468 692,462 698,476 704,470 710,486 716,477 722,490 728,482 734,497 740,487 746,500 752,490 757,504 763,472 768,487 773,482 778,492 783,497 788,502 793,492 798,482 804,472 810,477 815,464 820,474 826,460 832,472 838,462 844,470 850,480 856,472 862,484 868,474 874,487 880,477 886,487 892,477 900,484"/>
</svg>
<rect class="f" x="0" y="0" width="289.4" height="152.3"/>
<path class="k" d="M0,152.3v4.86M41.34,152.3v4.86M82.69,152.3v4.86M124.03,152.3v4.86M165.37,152.3v4.86M206.71,152.3v4.86M248.06,152.3v4.86M289.4,152.3v4.86M0,19.5h-4.86M0,53.3h-4.86M0,87.2h-4.86M0,121h-4.86"/>
<text class="l" transform="translate(-22.9,19.5) rotate(-20)" y="5">1.5</text>
<text class="l" transform="translate(-22.9,53.3) rotate(-20)" y="5">1.0</text>
<text class="l" transform="translate(-22.9,87.2) rotate(-20)" y="5">0.5</text>
<text class="l" transform="translate(-22.9,121) rotate(-20)" y="5">0.0</text>
<text class="l" transform="translate(0,182.3) rotate(-20)" y="5">2018-05-01</text>
<text class="l" transform="translate(41.34,182.3) rotate(-20)" y="5">2018-05-03</text>
<text class="l" transform="translate(82.69,182.3) rotate(-20)" y="5">2018-05-05</text>
<text class="l" transform="translate(124.03,182.3) rotate(-20)" y="5">2018-05-07</text>
<text class="l" transform="translate(165.37,182.3) rotate(-20)" y="5">2018-05-09</text>
<text class="l" transform="translate(206.71,182.3) rotate(-20)" y="5">2018-05-11</text>
<text class="l" transform="translate(248.06,182.3) rotate(-20)" y="5">2018-05-13</text>
<text class="l" transform="translate(289.4,182.3) rotate(-20)" y="5">2018-05-15</text>
</g>

<!-- 24 -->
<g transform="translate(1257,982)">
<text class="t" x="144.7" y="-8">02110777</text>
<svg x="0" y="0" width="289.4" height="152.3" viewBox="986 105 227 457" preserveAspectRatio="none">
<polyline class="r" points="986,420 995.4,525 1003.5,381 1007.6,527 1011.8,411 1015.9,527 1020.1,386 1024.2,527 1028.3,426 1032.5,527 1036.6,396 1040.8,527 1044.9,431 1049,527 1053.2,406 1057.3,527 1061.5,436 1065.6,525 1069.7,406 1073.9,525 1078,431 1082.2,525 1086.3,401 1090.4,525 1094.6,426 1098.7,522 1102.9,396 1107,522 1111.1,406 1115.3,522 1119.4,391 1123.6,522 1127.7,401 1131.8,522 1136,389 1140.1,524 1144.3,396 1148.4,524 1152.5,396 1156.7,526 1160.8,396 1165,526 1169.1,391 1173.2,527 1177.4,381 1181.5,527 1185.7,376 1189.8,530 1193.9,369 1198.1,530 1202.2,376 1206.4,532 1210.5,359 1212,380"/>
<polyline class="b" points="986,412 995.4,505 1003.5,432 1007.6,507 1011.8,440 1015.9,507 1020.1,432 1024.2,507 1028.3,440 1032.5,507 1036.6,434 1040.8,507 1044.9,442 1049,507 1053.2,436 1057.3,507 1061.5,442 1065.6,505 1069.7,436 1073.9,505 1078,440 1082.2,505 1086.3,434 1090.4,505 1094.6,440 1098.7,503 1102.9,432 1107,503 1111.1,436 1115.3,503 1119.4,432 1123.6,503 1127.7,436 1131.8,503 1136,430 1140.1,505 1144.3,434 1148.4,505 1152.5,432 1156.7,505 1160.8,432 1165,505 1169.1,430 1173.2,505 1177.4,428 1181.5,505 1185.7,426 1189.8,507 1193.9,424 1198.1,507 1202.2,426 1206.4,507 1210.5,422 1212,440"/>
<polyline class="g" points="986,408 995.4,498 1003.5,425 1007.6,500 1011.8,433 1015.9,500 1020.1,425 1024.2,500 1028.3,433 1032.5,500 1036.6,427 1040.8,500 1044.9,435 1049,500 1053.2,429 1057.3,500 1061.5,435 1065.6,498 1069.7,429 1073.9,498 1078,433 1082.2,498 1086.3,427 1090.4,498 1094.6,433 1098.7,496 1102.9,425 1107,496 1111.1,429 1115.3,496 1119.4,425 1123.6,496 1127.7,429 1131.8,496 1136,423 1140.1,498 1144.3,427 1148.4,498 1152.5,425 1156.7,498 1160.8,425 1165,498 1169.1,423 1173.2,498 1177.4,420 1181.5,498 1185.7,418 1189.8,500 1193.9,416 1198.1,500 1202.2,418 1206.4,500 1210.5,414 1212,432"/>
</svg>
<rect class="f" x="0" y="0" width="289.4" height="152.3"/>
<path class="k" d="M0,152.3v4.86M41.34,152.3v4.86M82.69,152.3v4.86M124.03,152.3v4.86M165.37,152.3v4.86M206.71,152.3v4.86M248.06,152.3v4.86M289.4,152.3v4.86M0,7h-4.86M0,44.2h-4.86M0,81.4h-4.86M0,118.7h-4.86"/>
<text class="l" transform="translate(-16.6,7) rotate(-20)" y="5">3</text>
<text class="l" transform="translate(-16.6,44.2) rotate(-20)" y="5">2</text>
<text class="l" transform="translate(-16.6,81.4) rotate(-20)" y="5">1</text>
<text class="l" transform="translate(-16.6,118.7) rotate(-20)" y="5">0</text>
<text class="l" transform="translate(0,182.3) rotate(-20)" y="5">2018-05-01</text>
<text class="l" transform="translate(41.34,182.3) rotate(-20)" y="5">2018-05-03</text>
<text class="l" transform="translate(82.69,182.3) rotate(-20)" y="5">2018-05-05</text>
<text class="l" transform="translate(124.03,182.3) rotate(-20)" y="5">2018-05-07</text>
<text class="l" transform="translate(165.37,182.3) rotate(-20)" y="5">2018-05-09</text>
<text class="l" transform="translate(206.71,182.3) rotate(-20)" y="5">2018-05-11</text>
<text class="l" transform="translate(248.06,182.3) rotate(-20)" y="5">2018-05-13</text>
<text class="l" transform="translate(289.4,182.3) rotate(-20)" y="5">2018-05-15</text>
</g>

<!-- 25 -->
<g transform="translate(1655.6,982)">
<text class="t" x="144.7" y="-8">02110802</text>
<svg x="0" y="0" width="289.4" height="152.3" viewBox="227 127 869 458" preserveAspectRatio="none">
<polyline class="r" points="227,345 240,332 258,498 270,362 290,528 305,342 322,498 335,362 352,533 368,342 385,498 398,367 418,533 432,357 450,488 462,382 480,528 495,362 512,488 525,382 545,518 560,357 578,478 590,377 608,493 622,357 640,468 655,377 672,468 688,337 705,438 718,337 735,448 750,337 768,443 782,342 800,448 815,342 835,448 848,342 865,463 880,357 898,508 912,347 930,508 945,342 962,498 975,357 995,518 1008,347 1028,508 1040,337 1060,518 1072,352 1092,548 1096,530"/>
<polyline class="b" points="227,430 245,395 262,430 278,410 295,445 310,415 328,450 342,425 358,455 372,420 390,455 405,425 422,460 438,430 455,455 470,435 485,460 500,440 518,465 535,445 550,470 565,420 580,440 598,430 612,450 630,440 645,455 660,445 675,465 690,420 705,440 722,415 740,435 755,405 772,430 788,405 805,430 820,400 838,425 852,400 870,430 885,415 900,450 915,420 932,450 948,415 965,455 980,420 998,455 1012,415 1030,450 1045,420 1062,455 1078,425 1096,465"/>
<polyline class="g" points="227,418 245,383 262,418 278,398 295,433 310,403 328,438 342,413 358,443 372,408 390,443 405,413 422,448 438,418 455,443 470,423 485,448 500,428 518,453 535,433 550,458 565,408 580,428 598,418 612,438 630,428 645,443 660,433 675,453 690,408 705,428 722,403 740,423 755,393 772,418 788,393 805,418 820,388 838,413 852,388 870,418 885,403 900,438 915,408 932,438 948,403 965,443 980,408 998,443 1012,403 1030,438 1045,408 1062,443 1078,413 1096,453"/>
</svg>
<rect class="f" x="0" y="0" width="289.4" height="152.3"/>
<path class="k" d="M0,152.3v4.86M41.34,152.3v4.86M82.69,152.3v4.86M124.03,152.3v4.86M165.37,152.3v4.86M206.71,152.3v4.86M248.06,152.3v4.86M289.4,152.3v4.86M0,4.7h-4.86M0,50.3h-4.86M0,95.3h-4.86M0,140.3h-4.86"/>
<text class="l" transform="translate(-22.9,4.7) rotate(-20)" y="5">1.0</text>
<text class="l" transform="translate(-22.9,50.3) rotate(-20)" y="5">0.5</text>
<text class="l" transform="translate(-22.9,95.3) rotate(-20)" y="5">0.0</text>
<text class="l" transform="translate(-28.3,140.3) rotate(-20)" y="5">−0.5</text>
<text class="l" transform="translate(0,182.3) rotate(-20)" y="5">2018-05-01</text>
<text class="l" transform="translate(41.34,182.3) rotate(-20)" y="5">2018-05-03</text>
<text class="l" transform="translate(82.69,182.3) rotate(-20)" y="5">2018-05-05</text>
<text class="l" transform="translate(124.03,182.3) rotate(-20)" y="5">2018-05-07</text>
<text class="l" transform="translate(165.37,182.3) rotate(-20)" y="5">2018-05-09</text>
<text class="l" transform="translate(206.71,182.3) rotate(-20)" y="5">2018-05-11</text>
<text class="l" transform="translate(248.06,182.3) rotate(-20)" y="5">2018-05-13</text>
<text class="l" transform="translate(289.4,182.3) rotate(-20)" y="5">2018-05-15</text>
</g>

</svg>
</body></html>
